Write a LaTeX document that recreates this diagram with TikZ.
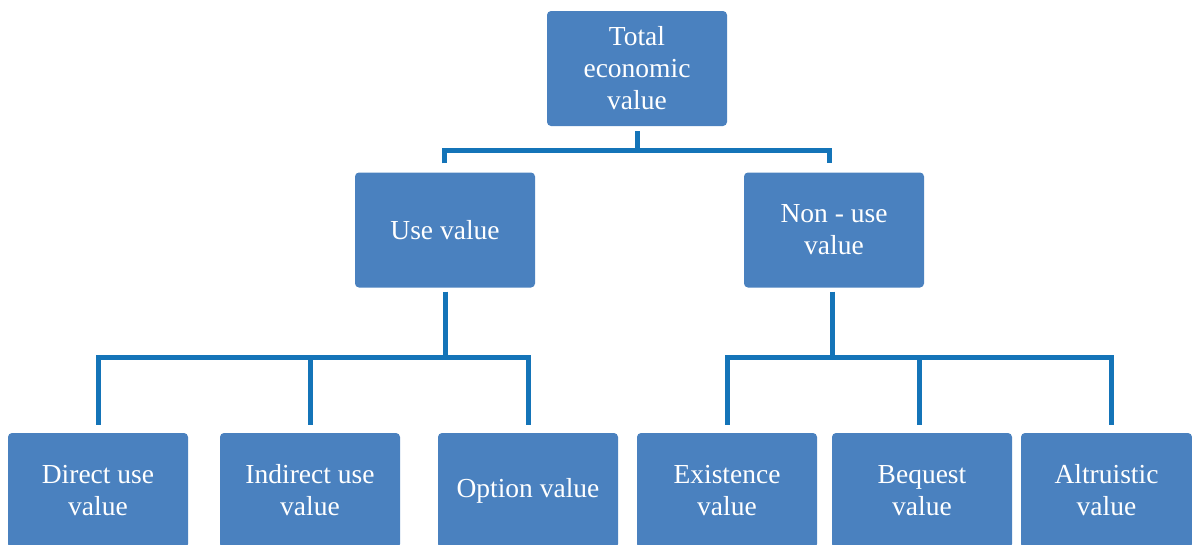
\documentclass[tikz,border=0pt]{standalone}
\usepackage{fontspec}
\setmainfont{Liberation Serif}
\definecolor{boxblue}{HTML}{4A81BF}
\definecolor{connblue}{HTML}{1474B8}
\begin{document}
\begin{tikzpicture}[x=1pt,y=-1pt,
  valbox/.style={fill=boxblue, draw=none, rounded corners=4pt, minimum width=180pt, minimum height=115pt,
    text=white, align=center, font=\fontsize{27.5}{32}\selectfont, inner sep=0pt},
  conn/.style={draw=connblue, line width=5pt, line join=miter}]
\useasboundingbox (0,0) rectangle (1192,544);
\clip (0,0) rectangle (1192,544);
\node[valbox] (tev) at (637,68.5) {Total\\economic\\value};
\node[valbox] (use) at (445,230) {Use value};
\node[valbox] (non) at (834,230) {Non - use\\value};
\node[valbox] (dir) at (98,490.5) {Direct use\\value};
\node[valbox] (ind) at (310,490.5) {Indirect use\\value};
\node[valbox] (opt) at (528,490.5) {Option value};
\node[valbox] (exi) at (727,490.5) {Existence\\value};
\node[valbox] (beq) at (922,490.5) {Bequest\\value};
\node[valbox, minimum width=171pt] (alt) at (1106.5,490.5) {Altruistic\\value};
\coordinate (j1) at (637,150);
\coordinate (j2) at (445,357);
\coordinate (j3) at (832,357);
% top level
\draw[conn] ([yshift=-5pt]tev.south) -- (j1);
\draw[conn] ([xshift=-1pt,yshift=9pt]use.north) -- ([xshift=-1pt]use.north |- j1) -- ([xshift=-5pt]non.north |- j1) -- ([xshift=-5pt,yshift=9pt]non.north);
% use value branch
\draw[conn] ([yshift=-4pt]use.south) -- (j2);
\draw[conn] ([yshift=8pt]dir.north) -- (dir.north |- j2) -- (opt.north |- j2) -- ([yshift=8pt]opt.north);
\draw[conn] ([yshift=8pt]ind.north) -- (ind.north |- j2);
% non-use branch
\draw[conn] ([xshift=-2pt,yshift=-4pt]non.south) -- (j3);
\draw[conn] ([yshift=8pt]exi.north) -- (exi.north |- j3) -- ([xshift=4.5pt]alt.north |- j3) -- ([xshift=4.5pt,yshift=8pt]alt.north);
\draw[conn] ([xshift=-3pt,yshift=8pt]beq.north) -- ([xshift=-3pt]beq.north |- j3);
\end{tikzpicture}
\end{document}
